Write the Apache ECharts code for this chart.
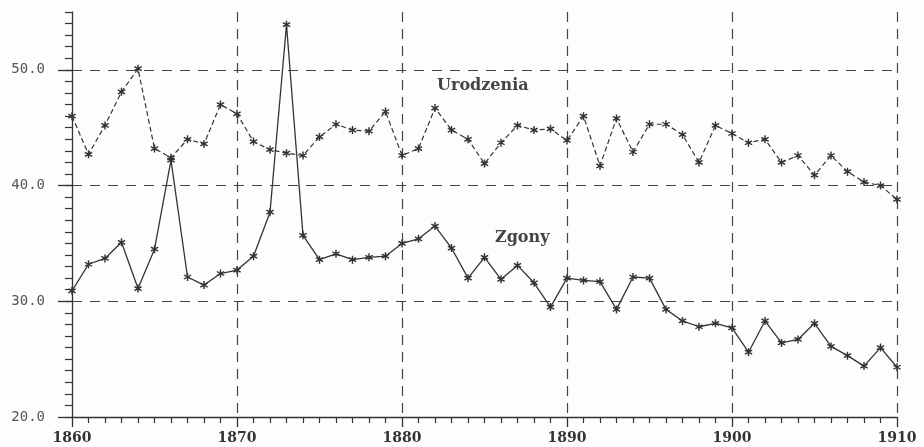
<!DOCTYPE html>
<html>
<head>
<meta charset="utf-8">
<script src="https://cdn.jsdelivr.net/npm/echarts@6/dist/echarts.min.js"></script>
<style>
  html, body { margin: 0; padding: 0; background: #fdfdfd; }
  #chart { width: 924px; height: 447px; }
</style>
</head>
<body>
<div id="chart"></div>
<script>
// lata 1860-1910
const years = [];
for (let y = 1860; y <= 1910; y++) years.push(y);

// urodzenia (linia przerywana)
const births = [
  46.0, 42.7, 45.2, 48.1, 50.1, 43.2, 42.4, 44.0, 43.6, 47.0,
  46.2, 43.8, 43.1, 42.8, 42.6, 44.2, 45.3, 44.8, 44.7, 46.4,
  42.6, 43.2, 46.7, 44.8, 44.0, 41.9, 43.7, 45.2, 44.8, 44.9,
  43.9, 46.0, 41.7, 45.8, 42.9, 45.3, 45.3, 44.4, 42.0, 45.2,
  44.5, 43.7, 44.0, 42.0, 42.6, 40.9, 42.6, 41.2, 40.3, 40.0,
  38.8
];

// zgony (linia ciagla)
const deaths = [
  30.9, 33.2, 33.7, 35.1, 31.1, 34.5, 42.2, 32.1, 31.4, 32.4,
  32.7, 33.9, 37.7, 53.9, 35.7, 33.6, 34.1, 33.6, 33.8, 33.9,
  35.0, 35.4, 36.5, 34.6, 32.0, 33.8, 31.9, 33.1, 31.6, 29.5,
  32.0, 31.8, 31.7, 29.3, 32.1, 32.0, 29.3, 28.3, 27.8, 28.1,
  27.7, 25.6, 28.3, 26.4, 26.7, 28.1, 26.1, 25.3, 24.4, 26.0,
  24.3
];

const yTicks = [20, 30, 40, 50];

const pair = (arr) => arr.map((v, i) => [years[i], v]);

// gwiazdka jako symbol
const star = 'path://M-0.175,-1 L0.175,-1 L0.175,1 L-0.175,1 Z ' +
  'M-0.9535,-0.3484 L-0.7785,-0.6516 L0.9535,0.3484 L0.7785,0.6516 Z ' +
  'M0.7785,-0.6516 L0.9535,-0.3484 L-0.7785,0.6516 L-0.9535,0.3484 Z';

const ink = '#333';
const chart = echarts.init(document.getElementById('chart'));

chart.setOption({
  backgroundColor: '#fdfdfd',
  animation: false,
  grid: { left: 72, right: 27, top: 12, bottom: 30 },
  xAxis: {
    type: 'value',
    min: 1860,
    max: 1910,
    interval: 10,
    axisLine: { lineStyle: { color: ink, width: 1.3 } },
    axisTick: { length: 10, lineStyle: { color: ink, width: 1.3 } },
    minorTick: { show: true, splitNumber: 10, length: 6, lineStyle: { color: ink, width: 1.2 } },
    axisLabel: {
      margin: 14,
      color: '#333',
      fontFamily: 'DejaVu Serif',
      fontWeight: 'bold',
      fontSize: 14,
      formatter: (v) => String(v)
    },
    splitLine: {
      show: true,
      showMinLine: false,
      lineStyle: { color: '#444', width: 1.2, type: [10, 7] }
    }
  },
  yAxis: [{
    type: 'value',
    min: 20,
    max: 55,
    interval: 10,
    axisLine: { show: true, lineStyle: { color: ink, width: 1.3 } },
    axisTick: { show: true, length: 14, customValues: yTicks, lineStyle: { color: ink, width: 1.3 } },
    axisLabel: {
      customValues: yTicks,
      margin: 27,
      color: '#555',
      fontFamily: 'DejaVu Sans Mono',
      fontSize: 14,
      formatter: (v) => v.toFixed(1)
    },
    splitLine: {
      show: true,
      showMinLine: false,
      lineStyle: { color: '#444', width: 1.2, type: [10, 8] }
    }
  }, {
    // drobne kreski co 1
    type: 'value',
    position: 'left',
    min: 20,
    max: 55,
    interval: 1,
    axisLine: { show: false },
    axisTick: { show: true, length: 7, lineStyle: { color: ink, width: 1.2 } },
    axisLabel: { show: false },
    splitLine: { show: false }
  }],
  graphic: [
    {
      type: 'text', left: 437, top: 78,
      style: { text: 'Urodzenia', fill: '#444', font: 'bold 16px "DejaVu Serif"' }
    },
    {
      type: 'text', left: 495, top: 230,
      style: { text: 'Zgony', fill: '#444', font: 'bold 16px "DejaVu Serif"' }
    }
  ],
  series: [
    {
      name: 'Urodzenia',
      type: 'line',
      data: pair(births),
      symbol: star,
      symbolSize: 8,
      itemStyle: { color: ink },
      lineStyle: { color: ink, width: 1.2, type: [5, 3] }
    },
    {
      name: 'Zgony',
      type: 'line',
      data: pair(deaths),
      symbol: star,
      symbolSize: 8,
      itemStyle: { color: ink },
      lineStyle: { color: ink, width: 1.3 }
    }
  ]
});
</script>
</body>
</html>
